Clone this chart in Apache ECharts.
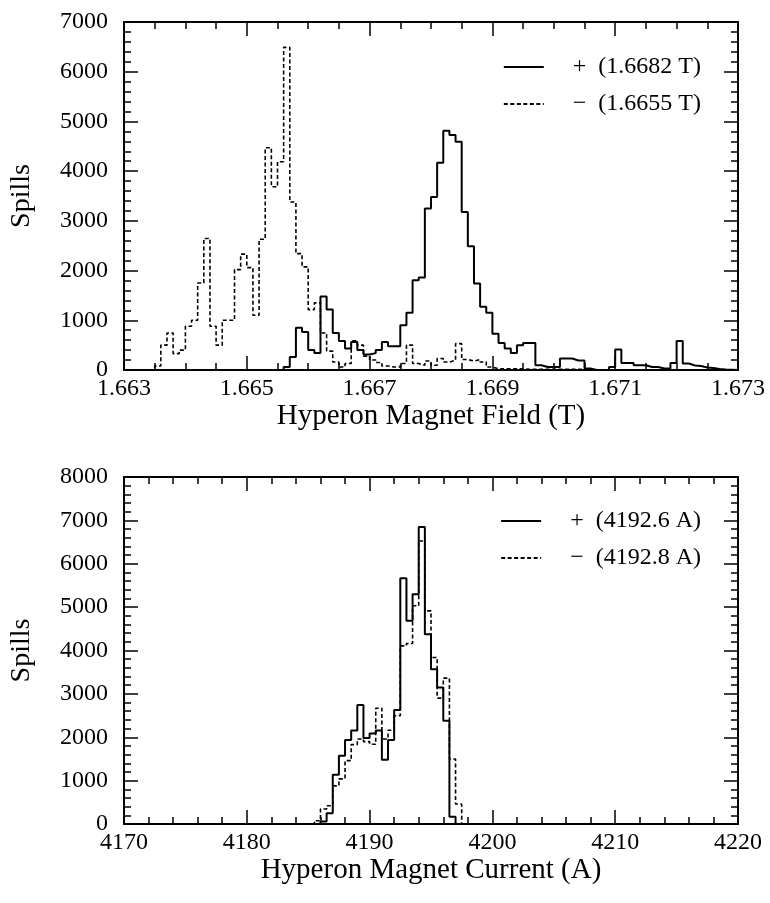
<!DOCTYPE html>
<html>
<head>
<meta charset="utf-8">
<script src="https://cdn.jsdelivr.net/npm/echarts@6/dist/echarts.min.js"></script>
<style>
html,body{margin:0;padding:0;background:#fff;}
#chart{width:770px;height:903px;}
</style>
</head>
<body>
<div id="chart"></div>
<script>
// ---- Top panel: Hyperon Magnet Field (T), 100 bins of 0.0001 T from 1.663 ----
var fieldBinStart = 1.663;
var fieldBinWidth = 0.0001;
var fieldTicks = [1.663, 1.665, 1.667, 1.669, 1.671, 1.673];
var plusFieldName = "+  (1.6682 T)";
var minusFieldName = "\u2212  (1.6655 T)";
var plusField = [
  0,0,0,0,0,0,0,0,0,0,
  0,0,0,0,0,0,0,0,0,0,
  0,0,0,0,0,0,60,260,850,765,
  400,340,1480,1215,745,585,430,565,400,310,
  340,400,565,480,480,900,1150,1805,1860,3250,
  3480,4170,4810,4725,4590,3180,2490,1740,1270,1150,
  730,545,430,340,500,545,545,95,60,60,
  60,230,230,190,190,30,0,0,0,60,
  410,140,140,95,95,60,60,30,30,140,
  585,130,90,80,50,40,20,10,5,0
];
var minusField = [
  0,0,0,0,0,80,500,745,330,400,
  880,1000,1750,2645,880,500,1000,1000,2020,2330,
  2060,1100,2630,4470,3685,4190,6490,3380,2340,2075,
  1215,1350,745,380,160,60,130,585,500,280,
  200,150,80,60,60,130,500,130,95,180,
  95,230,160,195,530,210,180,210,160,60,
  25,25,25,25,25,15,15,15,15,15,
  15,15,15,15,15,15,0,0,0,0,
  0,0,0,0,0,0,0,0,0,0,
  0,0,0,0,0,0,0,0,0,0
];

// ---- Bottom panel: Hyperon Magnet Current (A), 100 bins of 0.5 A from 4170 ----
var currentBinStart = 4170;
var currentBinWidth = 0.5;
var currentTicks = [4170, 4180, 4190, 4200, 4210, 4220];
var plusCurrentName = "+  (4192.6 A)";
var minusCurrentName = "\u2212  (4192.8 A)";
var plusCurrent = [
  0,0,0,0,0,0,0,0,0,0,
  0,0,0,0,0,0,0,0,0,0,
  0,0,0,0,0,0,0,0,0,0,
  0,0,60,250,1136,1574,1935,2157,2741,1981,
  2088,2157,1482,1935,2626,5666,4683,5298,6848,4376,
  3570,3148,2380,170,0,0,0,0,0,0,
  0,0,0,0,0,0,0,0,0,0,
  0,0,0,0,0,0,0,0,0,0,
  0,0,0,0,0,0,0,0,0,0,
  0,0,0,0,0,0,0,0,0,0
];
var minusCurrent = [
  0,0,0,0,0,0,0,0,0,0,
  0,0,0,0,0,0,0,0,0,0,
  0,0,0,0,0,0,0,0,0,0,
  0,75,345,420,880,1040,1460,1830,1960,1900,
  1840,2670,1960,2160,2495,4107,4160,5030,6525,4914,
  3839,2902,3363,1497,460,0,0,0,0,0,
  0,0,0,0,0,0,0,0,0,0,
  0,0,0,0,0,0,0,0,0,0,
  0,0,0,0,0,0,0,0,0,0,
  0,0,0,0,0,0,0,0,0,0
];

function histPoints(start, width, vals) {
  var pts = [];
  for (var i = 0; i < vals.length; i++) pts.push([start + i * width, vals[i]]);
  pts.push([start + vals.length * width, vals[vals.length - 1]]);
  return pts;
}

var FONT = "Liberation Serif";
var tickFont = 24, titleFont = 28, xTitleFont = 29;

function xAxes(grid, min, max, interval, minorSplit, name, fmt) {
  var common = {
    type: 'value', gridIndex: grid, min: min, max: max, interval: interval,
    splitLine: {show: false},
    axisLine: {show: true, onZero: false, lineStyle: {color: '#000', width: 2}},
    axisTick: {show: true, inside: true, length: 14, lineStyle: {color: '#000', width: 1.5}},
    minorTick: {show: true, splitNumber: minorSplit, length: 7, lineStyle: {color: '#000', width: 1.5}}
  };
  var bottom = Object.assign({}, common, {
    position: 'bottom',
    name: name, nameLocation: 'middle', nameGap: 27,
    nameTextStyle: {fontFamily: FONT, fontSize: xTitleFont, color: '#000'},
    axisLabel: {show: true, margin: 7, fontFamily: FONT, fontSize: tickFont, color: '#000', formatter: fmt,
                showMinLabel: true, showMaxLabel: true}
  });
  var top = Object.assign({}, common, {position: 'top', axisLabel: {show: false}});
  return [bottom, top];
}
function yAxes(grid, min, max, interval, minorSplit, name) {
  var common = {
    type: 'value', gridIndex: grid, min: min, max: max, interval: interval,
    splitLine: {show: false},
    axisLine: {show: true, onZero: false, lineStyle: {color: '#000', width: 2}},
    axisTick: {show: true, inside: true, length: 14, lineStyle: {color: '#000', width: 1.5}},
    minorTick: {show: true, splitNumber: minorSplit, length: 7, lineStyle: {color: '#000', width: 1.5}}
  };
  var left = Object.assign({}, common, {
    position: 'left',
    name: name, nameLocation: 'middle', nameGap: 88, nameRotate: 90,
    nameTextStyle: {fontFamily: FONT, fontSize: titleFont, color: '#000'},
    axisLabel: {show: true, margin: 16, fontFamily: FONT, fontSize: tickFont, color: '#000',
                formatter: function (v) { return String(Math.round(v)); }}
  });
  var right = Object.assign({}, common, {position: 'right', axisLabel: {show: false}});
  return [left, right];
}

var xa = xAxes(0, fieldTicks[0], fieldTicks[fieldTicks.length - 1], fieldTicks[1] - fieldTicks[0], 4,
               'Hyperon Magnet Field (T)', function (v) { return v.toFixed(3); })
  .concat(xAxes(1, currentTicks[0], currentTicks[currentTicks.length - 1], currentTicks[1] - currentTicks[0], 5,
               'Hyperon Magnet Current (A)', function (v) { return String(Math.round(v)); }));
var ya = yAxes(0, 0, 7000, 1000, 5, 'Spills').concat(yAxes(1, 0, 8000, 1000, 5, 'Spills'));

var solidStyle = {color: '#000', width: 2, type: 'solid'};
var dashStyle = {color: '#000', width: 1.6, type: [4, 2.5]};

function histSeries(name, xi, yi, data, style) {
  return {
    name: name, type: 'line', step: 'end', xAxisIndex: xi, yAxisIndex: yi,
    data: data, symbol: 'none', showSymbol: false, lineStyle: style,
    itemStyle: {color: '#000'}, animation: false, clip: true, z: 3
  };
}

function legendCfg(names, top) {
  return {
    data: names, orient: 'vertical', right: 64, top: top, itemWidth: 40, itemHeight: 14, itemGap: 13,
    itemStyle: {opacity: 0},
    formatter: function (n) { return '{t|' + n + '}'; },
    textStyle: {fontFamily: FONT, fontSize: 24, color: '#000',
                rich: {t: {fontFamily: FONT, fontSize: 24, color: '#000', padding: [0, 0, 0, 24]}}},
    selectedMode: false
  };
}

var chart = echarts.init(document.getElementById('chart'), null, {renderer: 'canvas'});
chart.setOption({
  backgroundColor: '#fff',
  animation: false,
  grid: [
    {left: 124, right: 32, top: 22, height: 348},
    {left: 124, right: 32, top: 477, height: 347}
  ],
  xAxis: xa,
  yAxis: ya,
  legend: [
    legendCfg([plusFieldName, minusFieldName], 50),
    legendCfg([plusCurrentName, minusCurrentName], 504)
  ],
  series: [
    histSeries(plusFieldName, 0, 0, histPoints(fieldBinStart, fieldBinWidth, plusField), solidStyle),
    histSeries(minusFieldName, 0, 0, histPoints(fieldBinStart, fieldBinWidth, minusField), dashStyle),
    histSeries(plusCurrentName, 2, 2, histPoints(currentBinStart, currentBinWidth, plusCurrent), solidStyle),
    histSeries(minusCurrentName, 2, 2, histPoints(currentBinStart, currentBinWidth, minusCurrent), dashStyle)
  ]
});
</script>
</body>
</html>
